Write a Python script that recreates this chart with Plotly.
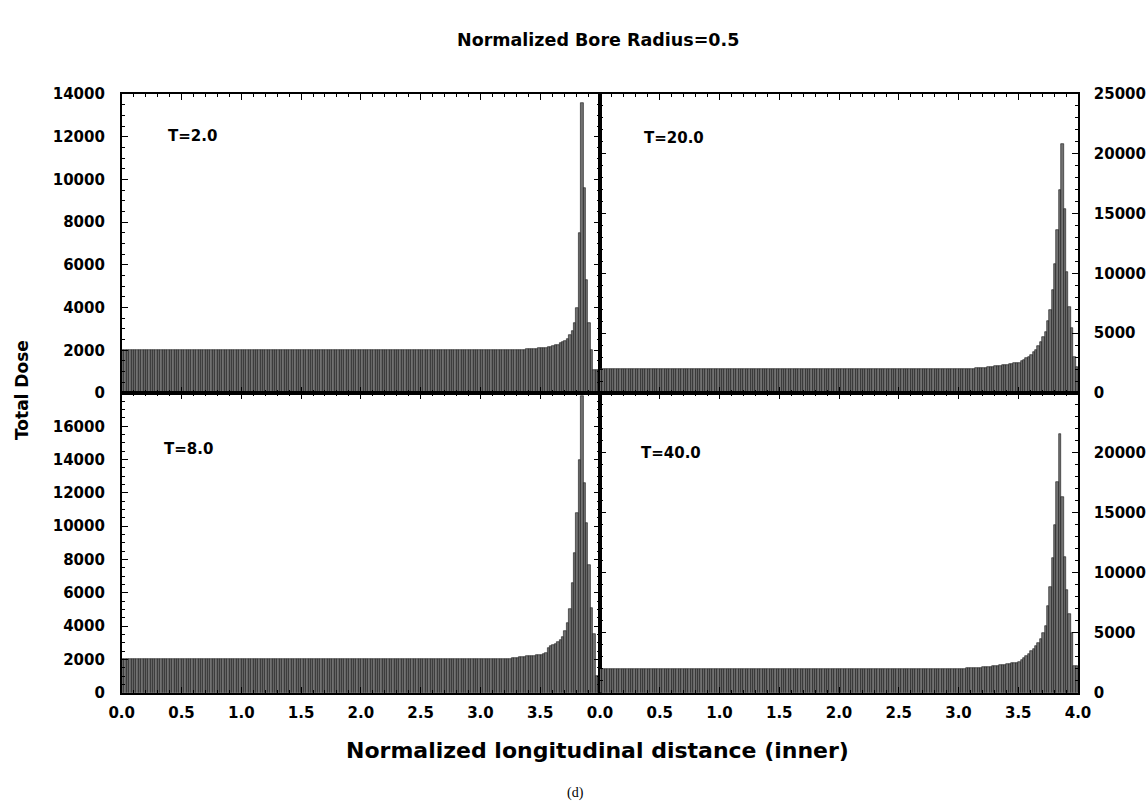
import numpy as np
import plotly.graph_objects as go

# ---------------- data ----------------
# bin centres of the normalized longitudinal distance (bin width 0.02)
distance = np.round(np.arange(0.01, 4.0, 0.02), 2)

dose_T2 = [
    2000, 2000, 2000, 2000, 2000, 2000, 2000, 2000, 2000, 2000, 2000, 2000, 2000, 2000, 2000, 2000, 2000, 2000, 2000, 2000,
    2000, 2000, 2000, 2000, 2000, 2000, 2000, 2000, 2000, 2000, 2000, 2000, 2000, 2000, 2000, 2000, 2000, 2000, 2000, 2000,
    2000, 2000, 2000, 2000, 2000, 2000, 2000, 2000, 2000, 2000, 2000, 2000, 2000, 2000, 2000, 2000, 2000, 2000, 2000, 2000,
    2000, 2000, 2000, 2000, 2000, 2000, 2000, 2000, 2000, 2000, 2000, 2000, 2000, 2000, 2000, 2000, 2000, 2000, 2000, 2000,
    2000, 2000, 2000, 2000, 2000, 2000, 2000, 2000, 2000, 2000, 2000, 2000, 2000, 2000, 2000, 2000, 2000, 2000, 2000, 2000,
    2000, 2000, 2000, 2000, 2000, 2000, 2000, 2000, 2000, 2000, 2000, 2000, 2000, 2000, 2000, 2000, 2000, 2000, 2000, 2000,
    2000, 2000, 2000, 2000, 2000, 2000, 2000, 2000, 2000, 2000, 2000, 2000, 2000, 2000, 2000, 2000, 2000, 2000, 2000, 2000,
    2000, 2000, 2000, 2000, 2000, 2000, 2000, 2000, 2000, 2000, 2000, 2000, 2000, 2000, 2000, 2000, 2000, 2000, 2000, 2000,
    2005, 2005, 2010, 2010, 2015, 2020, 2020, 2030, 2035, 2040,
    2050, 2060, 2070, 2080, 2090, 2100, 2110, 2130, 2150, 2170,
    2200, 2230, 2270, 2320, 2380, 2450, 2550, 2700, 2900, 3300,
    4000, 7500, 13600, 9600, 5300, 3300, 2000, 1100, 1100, 1100,
]

dose_T20 = [
    2000, 2000, 2000, 2000, 2000, 2000, 2000, 2000, 2000, 2000, 2000, 2000, 2000, 2000, 2000, 2000, 2000, 2000, 2000, 2000,
    2000, 2000, 2000, 2000, 2000, 2000, 2000, 2000, 2000, 2000, 2000, 2000, 2000, 2000, 2000, 2000, 2000, 2000, 2000, 2000,
    2000, 2000, 2000, 2000, 2000, 2000, 2000, 2000, 2000, 2000, 2000, 2000, 2000, 2000, 2000, 2000, 2000, 2000, 2000, 2000,
    2000, 2000, 2000, 2000, 2000, 2000, 2000, 2000, 2000, 2000, 2000, 2000, 2000, 2000, 2000, 2000, 2000, 2000, 2000, 2000,
    2000, 2000, 2000, 2000, 2000, 2000, 2000, 2000, 2000, 2000, 2000, 2000, 2000, 2000, 2000, 2000, 2000, 2000, 2000, 2000,
    2000, 2000, 2000, 2000, 2000, 2000, 2000, 2000, 2000, 2000, 2000, 2000, 2000, 2000, 2000, 2000, 2000, 2000, 2000, 2000,
    2000, 2000, 2000, 2000, 2000, 2000, 2000, 2000, 2000, 2000, 2000, 2000, 2000, 2000, 2000, 2000, 2000, 2000, 2000, 2000,
    2000, 2000, 2000, 2000, 2000, 2000, 2000, 2000, 2000, 2000,
    2000, 2000, 2010, 2010, 2020, 2030, 2040, 2050, 2060, 2080,
    2100, 2120, 2150, 2180, 2200, 2230, 2260, 2290, 2320, 2350,
    2380, 2410, 2440, 2470, 2500, 2550, 2650, 2800, 2950, 3050,
    3200, 3400, 3600, 3900, 4300, 4700, 5100, 6000, 6900, 8600,
    10800, 13600, 17000, 20800, 15400, 10100, 7200, 5400, 3000, 2200,
]

dose_T8 = [
    2000, 2000, 2000, 2000, 2000, 2000, 2000, 2000, 2000, 2000, 2000, 2000, 2000, 2000, 2000, 2000, 2000, 2000, 2000, 2000,
    2000, 2000, 2000, 2000, 2000, 2000, 2000, 2000, 2000, 2000, 2000, 2000, 2000, 2000, 2000, 2000, 2000, 2000, 2000, 2000,
    2000, 2000, 2000, 2000, 2000, 2000, 2000, 2000, 2000, 2000, 2000, 2000, 2000, 2000, 2000, 2000, 2000, 2000, 2000, 2000,
    2000, 2000, 2000, 2000, 2000, 2000, 2000, 2000, 2000, 2000, 2000, 2000, 2000, 2000, 2000, 2000, 2000, 2000, 2000, 2000,
    2000, 2000, 2000, 2000, 2000, 2000, 2000, 2000, 2000, 2000, 2000, 2000, 2000, 2000, 2000, 2000, 2000, 2000, 2000, 2000,
    2000, 2000, 2000, 2000, 2000, 2000, 2000, 2000, 2000, 2000, 2000, 2000, 2000, 2000, 2000, 2000, 2000, 2000, 2000, 2000,
    2000, 2000, 2000, 2000, 2000, 2000, 2000, 2000, 2000, 2000, 2000, 2000, 2000, 2000, 2000, 2000, 2000, 2000, 2000, 2000,
    2000, 2000, 2000, 2000, 2000, 2000, 2000, 2000, 2000, 2000, 2000, 2000, 2000, 2000, 2000, 2000, 2000, 2000, 2000, 2000,
    2020, 2030, 2040, 2060, 2080, 2100, 2120, 2140, 2160, 2180,
    2200, 2210, 2220, 2240, 2260, 2280, 2320, 2400, 2700, 2800,
    2880, 2950, 3050, 3150, 3350, 3700, 4200, 5000, 6600, 8400,
    10800, 14000, 17800, 12600, 10200, 7700, 5100, 3500, 1000, 1000,
]

dose_T40 = [
    2000, 2000, 2000, 2000, 2000, 2000, 2000, 2000, 2000, 2000, 2000, 2000, 2000, 2000, 2000, 2000, 2000, 2000, 2000, 2000,
    2000, 2000, 2000, 2000, 2000, 2000, 2000, 2000, 2000, 2000, 2000, 2000, 2000, 2000, 2000, 2000, 2000, 2000, 2000, 2000,
    2000, 2000, 2000, 2000, 2000, 2000, 2000, 2000, 2000, 2000, 2000, 2000, 2000, 2000, 2000, 2000, 2000, 2000, 2000, 2000,
    2000, 2000, 2000, 2000, 2000, 2000, 2000, 2000, 2000, 2000, 2000, 2000, 2000, 2000, 2000, 2000, 2000, 2000, 2000, 2000,
    2000, 2000, 2000, 2000, 2000, 2000, 2000, 2000, 2000, 2000, 2000, 2000, 2000, 2000, 2000, 2000, 2000, 2000, 2000, 2000,
    2000, 2000, 2000, 2000, 2000, 2000, 2000, 2000, 2000, 2000, 2000, 2000, 2000, 2000, 2000, 2000, 2000, 2000, 2000, 2000,
    2000, 2000, 2000, 2000, 2000, 2000, 2000, 2000, 2000, 2000, 2000, 2000, 2000, 2000, 2000, 2000, 2000, 2000, 2000, 2000,
    2000, 2000, 2000, 2000, 2000, 2000, 2000, 2000, 2000, 2000,
    2000, 2010, 2010, 2020, 2030, 2040, 2050, 2060, 2080, 2100,
    2120, 2140, 2160, 2180, 2200, 2230, 2260, 2290, 2320, 2350,
    2380, 2410, 2440, 2470, 2500, 2600, 2750, 2900, 3050, 3250,
    3450, 3650, 3900, 4150, 4500, 5000, 5600, 7200, 8800, 11200,
    14000, 17600, 21600, 16300, 11300, 8600, 6600, 5000, 2200, 2200,
]

panel_labels = ["T=2.0", "T=20.0", "T=8.0", "T=40.0"]
x_ticks_left = [0.0, 0.5, 1.0, 1.5, 2.0, 2.5, 3.0, 3.5]
x_ticks_right = [0.0, 0.5, 1.0, 1.5, 2.0, 2.5, 3.0, 3.5, 4.0]
y_ticks_TL = [0, 2000, 4000, 6000, 8000, 10000, 12000, 14000]
y_ticks_BL = [0, 2000, 4000, 6000, 8000, 10000, 12000, 14000, 16000]
y_ticks_TR = [0, 5000, 10000, 15000, 20000, 25000]
y_ticks_BR = [0, 5000, 10000, 15000, 20000]

# ---------------- layout geometry ----------------
W, H = 1148, 810
def px(x):
    return x / W
def py(y):
    return 1 - y / H

xL = [px(121.7), px(600)]
xR = [px(600), px(1078)]
yT = [py(393), py(94)]
yB = [py(692.7), py(393)]

FONT = "DejaVu Sans"
bar_fill = "#727272"
bar_line = "#141414"

fig = go.Figure()
series = [dose_T2, dose_T20, dose_T8, dose_T40]
axes = [("x", "y"), ("x2", "y2"), ("x3", "y3"), ("x4", "y4")]
for vals, (xa, ya) in zip(series, axes):
    fig.add_trace(go.Bar(
        x=distance, y=vals, xaxis=xa, yaxis=ya,
        marker=dict(color=bar_fill, line=dict(color=bar_line, width=0.6)),
        showlegend=False, hoverinfo="x+y",
    ))

tickfont = dict(family=FONT, size=15, color="black", weight="bold")
common = dict(showline=True, linecolor="black", linewidth=1.6, mirror="ticks",
              ticks="inside", ticklen=6, tickwidth=1.4, tickcolor="black",
              showgrid=False, zeroline=False, tickfont=tickfont,
              automargin=False)

def xaxis(domain, anchor, tickvals, show):
    return dict(common, domain=domain, anchor=anchor, range=[0, 4],
                tickvals=tickvals, ticktext=[f"{v:.1f}" for v in tickvals],
                showticklabels=show, ticklabelstandoff=5,
                minor=dict(dtick=0.1, ticks="inside", ticklen=3, tickwidth=1, tickcolor="black"))

def yaxis(domain, anchor, rng, tickvals, side, minor_dtick, standoff):
    return dict(common, domain=domain, anchor=anchor, range=rng, side=side,
                tickvals=tickvals, ticktext=[str(v) for v in tickvals],
                ticklabelstandoff=standoff,
                minor=dict(dtick=minor_dtick, ticks="inside", ticklen=3, tickwidth=1, tickcolor="black"))

fig.update_layout(
    width=W, height=H,
    margin=dict(l=0, r=0, t=0, b=0, pad=0),
    paper_bgcolor="white", plot_bgcolor="white",
    bargap=0,
    xaxis=xaxis(xL, "y", x_ticks_left, False),
    xaxis2=xaxis(xR, "y2", x_ticks_right, False),
    xaxis3=xaxis(xL, "y3", x_ticks_left, True),
    xaxis4=xaxis(xR, "y4", x_ticks_right, True),
    yaxis=yaxis(yT, "x", [0, 14000], y_ticks_TL, "left", 500, 12),
    yaxis2=yaxis(yT, "x2", [0, 25000], y_ticks_TR, "right", 1000, 11),
    yaxis3=yaxis(yB, "x3", [0, 18000], y_ticks_BL, "left", 500, 12),
    yaxis4=yaxis(yB, "x4", [0, 25000], y_ticks_BR, "right", 1000, 11),
)

ann_font = dict(family=FONT, size=15, color="black", weight="bold")
label_pos = [(166, 136), (642, 138), (162, 449), (639, 453)]
for txt, (ax_, ay_) in zip(panel_labels, label_pos):
    fig.add_annotation(x=px(ax_), y=py(ay_), xref="paper", yref="paper",
                       text=txt, showarrow=False, xanchor="left", yanchor="middle",
                       font=ann_font)

fig.add_annotation(x=px(598), y=py(40), xref="paper", yref="paper",
                   text="Normalized Bore Radius=0.5", showarrow=False,
                   xanchor="center", yanchor="middle",
                   font=dict(family=FONT, size=17.5, color="black", weight="bold"))
fig.add_annotation(x=px(22), y=py(390), xref="paper", yref="paper",
                   text="Total Dose", showarrow=False, textangle=-90,
                   xanchor="center", yanchor="middle",
                   font=dict(family=FONT, size=17, color="black", weight="bold"))
fig.add_annotation(x=px(597), y=py(750), xref="paper", yref="paper",
                   text="Normalized longitudinal distance (inner)", showarrow=False,
                   xanchor="center", yanchor="middle",
                   font=dict(family=FONT, size=22, color="black", weight="bold"))
fig.add_annotation(x=px(575), y=py(793), xref="paper", yref="paper",
                   text="(d)", showarrow=False,
                   xanchor="center", yanchor="middle",
                   font=dict(family="Liberation Serif", size=14, color="black"))

fig.write_html("out.html")
